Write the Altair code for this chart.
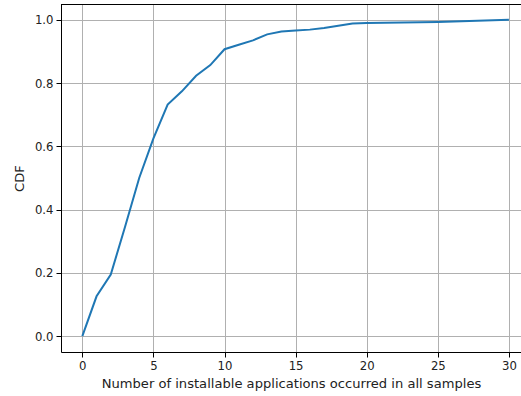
import altair as alt
import pandas as pd

x_vals = [0, 1, 2, 3, 4, 5, 6, 7, 8, 9, 10, 11, 12, 13, 14, 15, 16, 17, 18, 19, 20, 25, 30]
cdf_vals = [0.0, 0.126, 0.195, 0.345, 0.5, 0.625, 0.732, 0.774, 0.823, 0.857, 0.907, 0.921,
            0.935, 0.954, 0.963, 0.966, 0.969, 0.974, 0.981, 0.988, 0.990, 0.993, 1.0]
x_ticks = [0, 5, 10, 15, 20, 25, 30]
y_ticks = [0.0, 0.2, 0.4, 0.6, 0.8, 1.0]

df = pd.DataFrame({"x": x_vals, "cdf": cdf_vals})

FONT = "DejaVu Sans"
W, H = 460, 348

line = alt.Chart(df).mark_line(color="#1f77b4", strokeWidth=2, clip=True).encode(
    x=alt.X("x:Q", scale=alt.Scale(domain=[-1.5, 30.85], nice=False, zero=False),
            axis=alt.Axis(values=x_ticks, title="Number of installable applications occurred in all samples",
                          titlePadding=6)),
    y=alt.Y("cdf:Q", scale=alt.Scale(domain=[-0.05, 1.05], nice=False, zero=False),
            axis=alt.Axis(values=y_ticks, format=".1f", title="CDF", titlePadding=8)),
)

top = alt.Chart(df).mark_rule(color="black", strokeWidth=1).encode(
    x=alt.value(0), x2=alt.value(W), y=alt.value(0.5)
)

chart = alt.layer(line, top).properties(
    width=W, height=H,
    background="white",
    autosize=alt.AutoSizeParams(type="none"),
    padding={"left": 61, "top": 4, "right": 0, "bottom": 44},
).configure_view(
    strokeWidth=0
).configure_axis(
    grid=True, gridColor="#b0b0b0", gridWidth=1,
    domainColor="black", domainWidth=1,
    tickColor="black", tickSize=5, tickWidth=1,
    labelFont=FONT, labelFontSize=11.7, labelColor="#222",
    titleFont=FONT, titleFontSize=13.1, titleFontWeight="normal", titleColor="#222",
    labelPadding=3,
)

chart.save("out.html", embed_options={"renderer": "svg", "actions": False})
